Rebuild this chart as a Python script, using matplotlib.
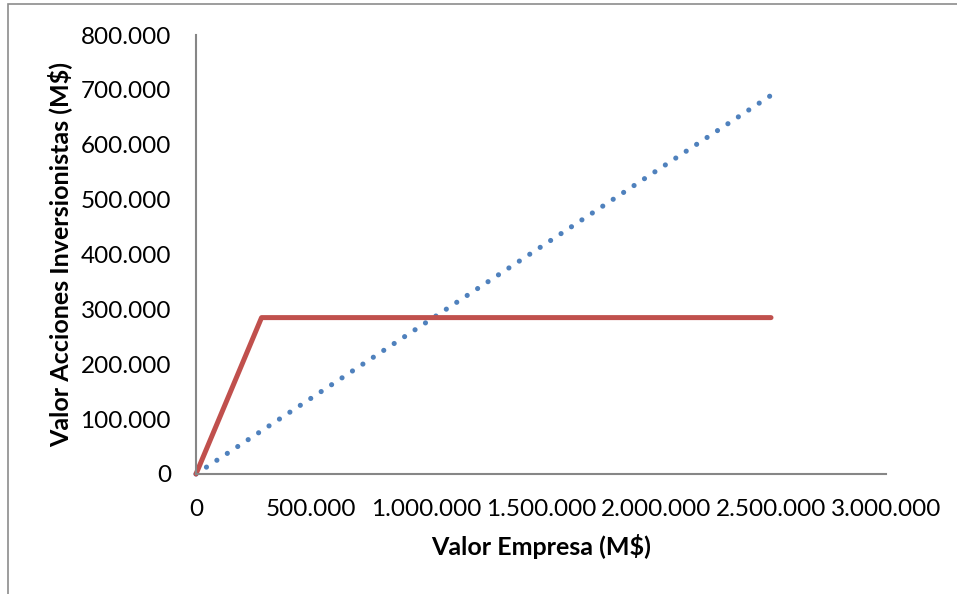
import matplotlib.pyplot as plt
from matplotlib.patches import Rectangle
from matplotlib.ticker import FuncFormatter

# valor empresa vs valor de las acciones de los inversionistas (M$)
x_deuda = [0, 285000, 2500000]
y_deuda = [0, 285000, 285000]
x_acciones = [0, 2500000]
y_acciones = [0, 690000]

x_ticks = [0, 500000, 1000000, 1500000, 2000000, 2500000, 3000000]
y_ticks = [0, 100000, 200000, 300000, 400000, 500000, 600000, 700000, 800000]

azul = '#4F81BD'
rojo = '#C0504D'
gris = '#868686'

plt.rcParams['font.family'] = ['Lato', 'DejaVu Sans']

fig = plt.figure(figsize=(9.57, 5.94), dpi=100)
ax = fig.add_axes([196 / 957, 120 / 594, 690 / 957, 439 / 594])

# marco exterior del grafico
fig.add_artist(Rectangle((8 / 957, -0.5), 2, (590 / 594) + 0.5, transform=fig.transFigure,
                         fill=False, edgecolor='#8c8c8c', lw=1.2))

ax.plot(x_acciones, y_acciones, color=azul, lw=3.7, linestyle=(0, (0.01, 2.42)),
        dash_capstyle='round', clip_on=False)
ax.plot(x_deuda, y_deuda, color=rojo, lw=3.6, solid_capstyle='round',
        solid_joinstyle='round', clip_on=False)

ax.set_xlim(0, 3000000)
ax.set_ylim(0, 800000)
ax.set_xticks(x_ticks)
ax.set_yticks(y_ticks)

fmt = FuncFormatter(lambda v, p: f'{int(v):,}'.replace(',', '.'))
ax.xaxis.set_major_formatter(fmt)
ax.yaxis.set_major_formatter(fmt)
ax.tick_params(length=0, labelsize=17.5, pad=18)
ax.tick_params(axis='x', pad=18)

for s in ['top', 'right']:
    ax.spines[s].set_visible(False)
for s in ['left', 'bottom']:
    ax.spines[s].set_color(gris)
    ax.spines[s].set_linewidth(1.5)

ax.set_xlabel('Valor Empresa (M$)', fontsize=18, fontweight='bold', labelpad=10)
ax.set_ylabel('Valor Acciones Inversionistas (M$)', fontsize=18, fontweight='bold', labelpad=6)

fig.savefig('out.png', dpi=100)
